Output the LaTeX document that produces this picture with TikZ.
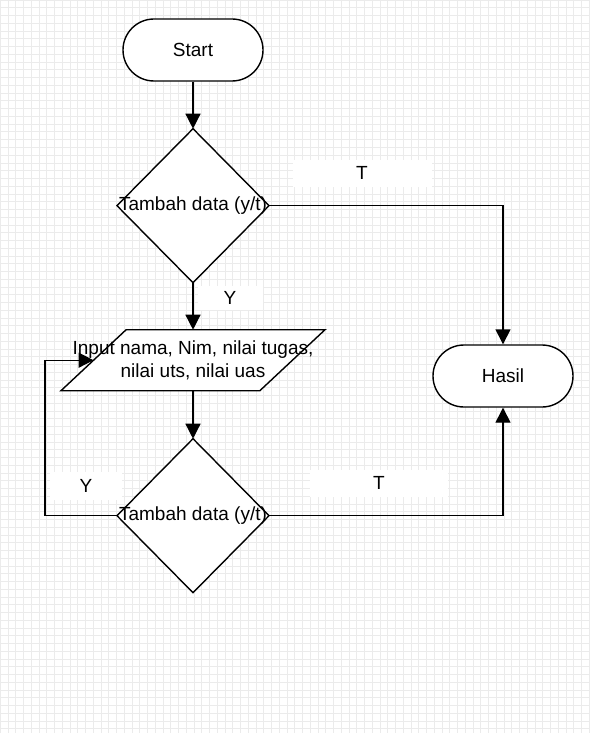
\documentclass[tikz,border=0pt]{standalone}
\usepackage{fontspec}
\setmainfont{Liberation Sans}
\usetikzlibrary{arrows.meta,calc,positioning,shapes.geometric}
\tikzset{>={Triangle[width=15pt,length=15pt]}}

\begin{document}
\begin{tikzpicture}[x=1pt,y=-1pt,font=\fontsize{19}{23}\selectfont]
	\tikzset{term/.style={draw, shape=rectangle, rounded corners=31pt, minimum width=140pt, minimum height=62pt, fill=white, line width=1.4pt},
		decision/.style={draw, diamond, minimum width=152pt, minimum height=154pt, inner sep=0pt, outer sep=0pt, fill=white, line width=1.4pt},
		io/.style={draw, trapezium, trapezium left angle=64, trapezium right angle=116, trapezium stretches=true, minimum width=264pt, minimum height=61pt, inner sep=1pt, outer sep=0pt, fill=white, line width=1.4pt},
		lbl/.style={fill=white, inner sep=0pt},
		flow/.style={line width=1.4pt},
		gridline/.style={gray!16, line width=0.5pt}
	}
	\useasboundingbox (0,0) rectangle (590,733);
	\fill[white] (0,0) rectangle (590,733);
	\draw[gridline, step=7.75pt] (0,0) grid (590,733);
	% shapes
	\node [term] (start) at (193,50) {Start};
	\node [decision, below = 47pt of start, label=center:{Tambah data (y/t)}] (cek1) {};
	\node [io, below = 47pt of cek1, label={[align=center]center:Input nama, Nim, nilai tugas,\\nilai uts, nilai uas}] (input) {};
	\node [decision, below = 48pt of input, label=center:{Tambah data (y/t)}] (cek2) {};
	\node [term] (hasil) at (503,376) {Hasil};
	\coordinate (masuk) at ($(input.top left corner)!0.5!(input.bottom left corner)$);
	% labels
	\node [lbl, minimum width=139pt, minimum height=27pt] (t1) at (362,173) {T};
	\node [lbl, minimum width=65pt, minimum height=24pt] (y1) at (230,298) {Y};
	\node [lbl, minimum width=72pt, minimum height=28pt] (y2) at (86,486) {Y};
	\node [lbl, minimum width=138pt, minimum height=27pt] (t2) at (379,483) {T};
	% connectors
	\draw [flow,->] (start) -- (cek1);
	\draw [flow,->] (cek1) -- (input);
	\draw [flow,->] (input) -- (cek2);
	\draw [flow,->] (cek1.east) -| (hasil.north);
	\draw [flow,->] (cek2.east) -| (hasil.south);
	\draw [flow,->] (cek2.west) -- ++(-72,0) |- (masuk);
\end{tikzpicture}
\end{document}
